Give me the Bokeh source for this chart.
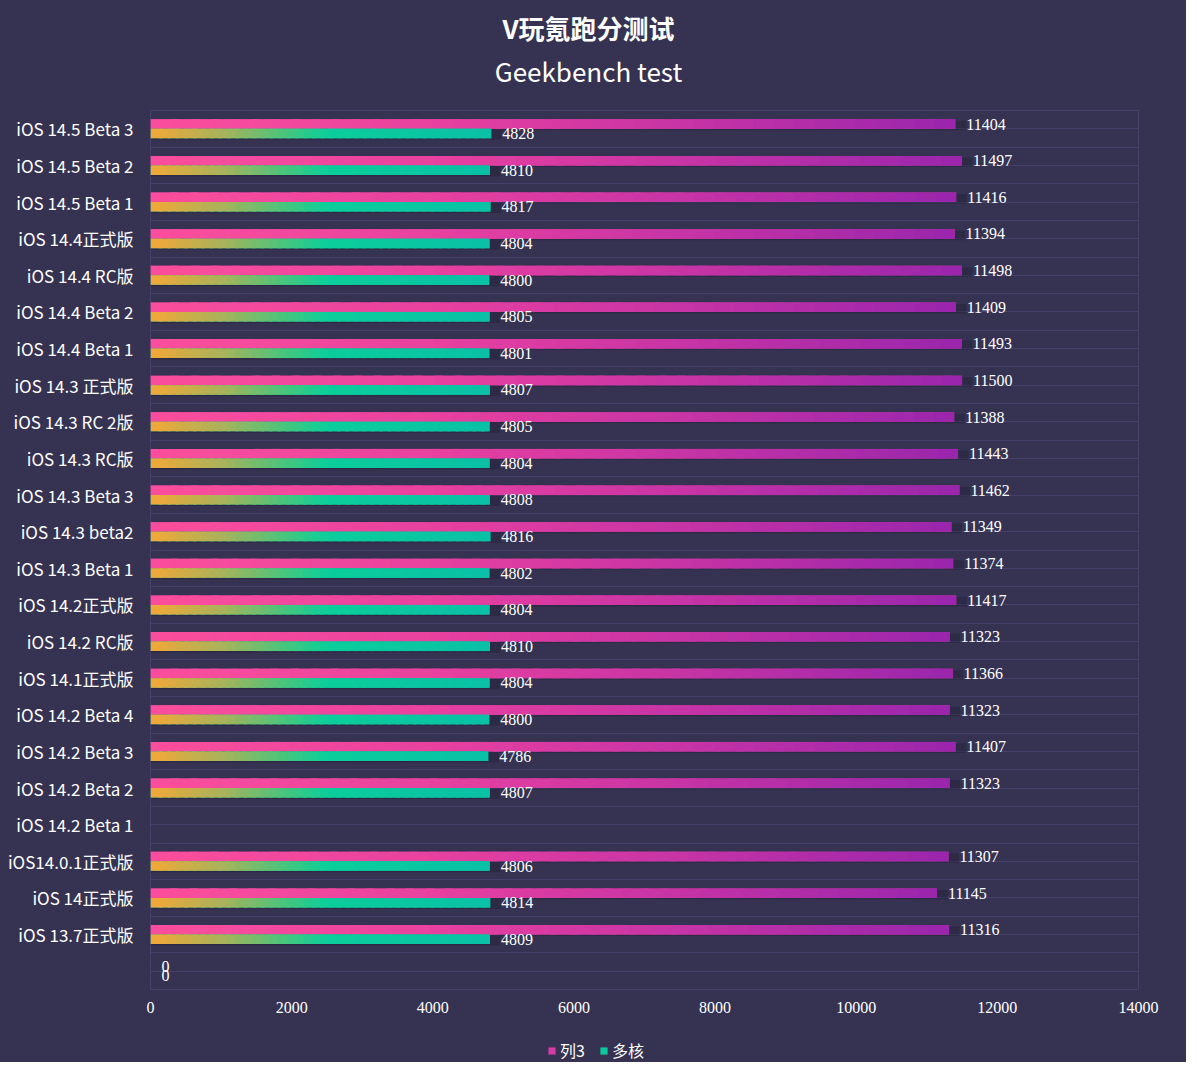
import numpy as np
from bokeh.plotting import figure
from bokeh.layouts import column
from bokeh.models import Range1d, FixedTicker, Legend, LegendItem, ColumnDataSource
from bokeh.embed import file_html
from bokeh.resources import INLINE
from bokeh.core.properties import value

# ---------------- data ----------------
categories = [
    "iOS 14.5 Beta 3", "iOS 14.5 Beta 2", "iOS 14.5 Beta 1", "iOS 14.4正式版",
    "iOS 14.4 RC版", "iOS 14.4 Beta 2", "iOS 14.4 Beta 1", "iOS 14.3 正式版",
    "iOS 14.3 RC 2版", "iOS 14.3 RC版", "iOS 14.3 Beta 3", "iOS 14.3 beta2",
    "iOS 14.3 Beta 1", "iOS 14.2正式版", "iOS 14.2 RC版", "iOS 14.1正式版",
    "iOS 14.2 Beta 4", "iOS 14.2 Beta 3", "iOS 14.2 Beta 2", "iOS 14.2 Beta 1",
    "iOS14.0.1正式版", "iOS 14正式版", "iOS 13.7正式版", "",
]
series_col3 = [
    11404, 11497, 11416, 11394, 11498, 11409, 11493, 11500, 11388, 11443, 11462, 11349,
    11374, 11417, 11323, 11366, 11323, 11407, 11323, None, 11307, 11145, 11316, 0,
]
series_multi = [
    4828, 4810, 4817, 4804, 4800, 4805, 4801, 4807, 4805, 4804, 4808, 4816,
    4802, 4804, 4810, 4804, 4800, 4786, 4807, None, 4806, 4814, 4809, 0,
]
x_ticks = [0, 2000, 4000, 6000, 8000, 10000, 12000, 14000]
series_names = ["列3", "多核"]
title_main = "V玩氪跑分测试"
title_sub = "Geekbench test"

# ---------------- style ----------------
BG = "#363352"
GRID = "#45416a"
WHITE = "#ffffff"
PINK_STOPS = [(0.0, "#fb4f9c"), (0.35, "#e8419f"), (0.7, "#c232a6"), (1.0, "#9925ad")]
GREEN_STOPS = [(0.0, "#f3a838"), (0.22, "#a5b35c"), (0.4, "#45c67e"), (0.52, "#0bce9b"), (1.0, "#0ac0a6")]
BAR_H = 0.26
K = 40
W = 1186
LB, RB = 150, 48
FRAME_W = W - LB - RB
HEAD_H = 108
MAIN_H = 911
FOOT_H = 1062 - HEAD_H - MAIN_H


def hex2rgb(h):
    h = h.lstrip("#")
    return np.array([int(h[i:i + 2], 16) for i in (0, 2, 4)], dtype=float)


def interp(stops, t):
    for (t0, c0), (t1, c1) in zip(stops[:-1], stops[1:]):
        if t <= t1:
            f = 0 if t1 == t0 else (t - t0) / (t1 - t0)
            c = hex2rgb(c0) * (1 - f) + hex2rgb(c1) * f
            return "#%02x%02x%02x" % tuple(int(round(v)) for v in c)
    return stops[-1][1]


def blank(height, y_range):
    f = figure(width=W, height=height, output_backend="svg", toolbar_location=None,
               x_range=Range1d(0, FRAME_W), y_range=y_range,
               x_axis_location=None, y_axis_location=None,
               min_border_left=LB, min_border_right=RB, min_border_top=0, min_border_bottom=0)
    f.title = None
    f.grid.visible = False
    f.outline_line_color = None
    f.background_fill_color = BG
    f.border_fill_color = BG
    return f


# ---------------- header (titles) ----------------
head = blank(HEAD_H, Range1d(HEAD_H, 0))
tsrc = ColumnDataSource(dict(x=[438, 438], y=[27, 70], t=[title_main, title_sub],
                             st=["bold", "normal"]))
head.text(x="x", y="y", text="t", source=tsrc, text_align="center", text_baseline="alphabetic",
          text_color=WHITE, text_font=value("Noto Sans CJK SC"), text_font_size="26px",
          text_font_style="st")

# ---------------- main chart ----------------
n = len(categories)
pos = [i + 0.5 for i in range(n)]

p = figure(width=W, height=MAIN_H, output_backend="svg", toolbar_location=None,
           x_range=Range1d(0, 14000), y_range=Range1d(n, 0),
           min_border_left=LB, min_border_right=RB, min_border_top=2, min_border_bottom=30)
p.title = None
p.background_fill_color = BG
p.border_fill_color = BG
p.outline_line_color = GRID
p.outline_line_width = 1

p.xgrid.visible = False
p.ygrid.ticker = FixedTicker(ticks=[k * 0.5 for k in range(2 * n + 1)])
p.ygrid.grid_line_color = GRID
p.ygrid.grid_line_width = 1

p.yaxis.ticker = FixedTicker(ticks=pos)
p.yaxis.major_label_overrides = {pp: c for pp, c in zip(pos, categories)}
p.xaxis.ticker = FixedTicker(ticks=x_ticks)
for ax in (p.xaxis, p.yaxis):
    ax.axis_line_color = None
    ax.major_tick_line_color = None
    ax.minor_tick_line_color = None
    ax.major_label_text_color = WHITE
p.yaxis.major_label_text_font = "Noto Sans CJK SC"
p.yaxis.major_label_text_font_size = "17px"
p.yaxis.major_label_standoff = 11
p.xaxis.major_label_text_font = "Liberation Serif"
p.xaxis.major_label_text_font_size = "16px"
p.xaxis.major_label_standoff = 6


def draw_series(vals, offset, stops):
    ys = [pp + offset for pp, v in zip(pos, vals) if v is not None]
    vs = [v for v in vals if v is not None]
    sh = ColumnDataSource(dict(y=[y + 0.04 for y in ys], right=[v + 150 if v > 0 else 0 for v in vs]))
    p.hbar(y="y", left=0, right="right", height=BAR_H, source=sh, fill_color="#1c1930",
           fill_alpha=0.35, line_color=None)
    src = ColumnDataSource(dict(y=ys, right=vs))
    p.hbar(y="y", left=0, right="right", height=BAR_H, source=src,
           fill_color=interp(stops, 0.5), line_color=None)
    gy, gl, gr, gc = [], [], [], []
    for y, v in zip(ys, vs):
        if not v:
            continue
        for k in range(K):
            gy.append(y)
            gl.append(v * k / K)
            gr.append(min(v, v * (k + 1.4) / K))
            gc.append(interp(stops, (k + 0.5) / K))
    gsrc = ColumnDataSource(dict(y=gy, left=gl, right=gr, c=gc))
    p.hbar(y="y", left="left", right="right", height=BAR_H, source=gsrc,
           fill_color="c", line_color=None)
    lsrc = ColumnDataSource(dict(x=vs, y=ys, t=[str(v) for v in vs]))
    p.text(x="x", y="y", text="t", source=lsrc, x_offset=11, text_align="left",
           text_baseline="middle", text_color=WHITE, text_font=value("Liberation Serif"),
           text_font_size="16px")


draw_series(series_col3, -BAR_H / 2, PINK_STOPS)
draw_series(series_multi, BAR_H / 2, GREEN_STOPS)

# ---------------- footer (legend) ----------------
foot = blank(FOOT_H, Range1d(0, FOOT_H))
nan_row = dict(y=[np.nan], right=[np.nan])
l1 = foot.hbar(y="y", right="right", left=0, height=1, source=ColumnDataSource(nan_row),
               fill_color="#d63ba3", line_color=None)
l2 = foot.hbar(y="y", right="right", left=0, height=1, source=ColumnDataSource(nan_row),
               fill_color="#0bc99e", line_color=None)
legend = Legend(items=[LegendItem(label=series_names[0], renderers=[l1]),
                       LegendItem(label=series_names[1], renderers=[l2])],
                orientation="horizontal", location=(397, 0),
                background_fill_alpha=0, border_line_color=None,
                padding=0, margin=0, spacing=14, label_standoff=4,
                glyph_width=9, glyph_height=9, label_height=9,
                label_text_color=WHITE, label_text_font="Noto Sans CJK SC",
                label_text_font_size="16px")
foot.add_layout(legend)

layout = column(head, p, foot, spacing=0, styles={"background-color": BG})
open("out.html", "w").write(file_html(layout, INLINE))
